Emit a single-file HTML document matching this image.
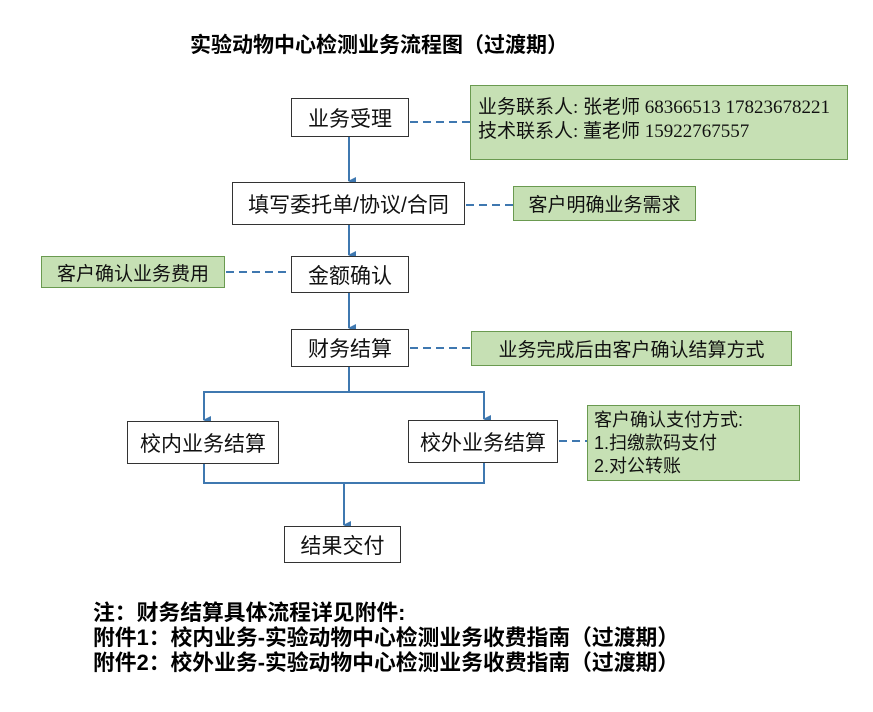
<!DOCTYPE html>
<html><head><meta charset="utf-8"><style>
body{margin:0;width:873px;height:712px;background:#fff;position:relative;overflow:hidden;font-family:"Liberation Sans","Noto Sans CJK SC",sans-serif;}
.b{position:absolute;border:1.5px solid #333;background:#fff;box-sizing:border-box;display:flex;align-items:center;justify-content:center;font-size:21px;color:#111;white-space:nowrap;}
.g{position:absolute;border:1.5px solid #6a9a50;background:#c6e0b4;box-sizing:border-box;display:flex;align-items:center;justify-content:center;font-size:19px;color:#111;white-space:nowrap;}
.t{position:absolute;font-weight:bold;color:#000;white-space:nowrap;}
svg{position:absolute;left:0;top:0;}
</style></head><body>
<div class="t" style="left:190px;top:29px;font-size:21px;">实验动物中心检测业务流程图（过渡期）</div>
<svg width="873" height="712">
<defs><marker id="a" markerWidth="8" markerHeight="8" refX="4" refY="7" orient="auto" markerUnits="userSpaceOnUse"><path d="M0,0 L8,0 L4,8 Z" fill="#3f78b0"/></marker></defs>
<g stroke="#3f78b0" stroke-width="2" fill="none">
<line x1="349" y1="137" x2="349" y2="181" marker-end="url(#a)"/>
<line x1="349" y1="225" x2="349" y2="255" marker-end="url(#a)"/>
<line x1="349" y1="293" x2="349" y2="328" marker-end="url(#a)"/>
<polyline points="349,367 349,392 204,392 204,420" marker-end="url(#a)"/>
<polyline points="349,392 484,392 484,419" marker-end="url(#a)"/>
<polyline points="204,464 204,483 484,483 484,463"/>
<line x1="344" y1="483" x2="344" y2="525" marker-end="url(#a)"/>
</g>
<g stroke="#3f78b0" stroke-width="2" stroke-dasharray="8,5">
<line x1="410" y1="122" x2="470" y2="122"/>
<line x1="466" y1="205" x2="513" y2="205"/>
<line x1="226" y1="272" x2="291" y2="272"/>
<line x1="410" y1="348" x2="471" y2="348"/>
<line x1="559" y1="441" x2="587" y2="441"/>
</g>
</svg>
<div class="b" style="left:291px;top:98px;width:118px;height:39px;">业务受理</div>
<div class="g" style="left:470px;top:85px;width:378px;height:75px;justify-content:flex-start;padding-left:7px;line-height:24px;font-family:'Liberation Serif','Noto Sans CJK SC',serif;font-size:19px;"><div style="margin-top:-6px">业务联系人: 张老师 68366513 17823678221<br>技术联系人: 董老师 15922767557</div></div>
<div class="b" style="left:232px;top:182px;width:233px;height:43px;">填写委托单/协议/合同</div>
<div class="g" style="left:513px;top:186px;width:183px;height:35px;">客户明确业务需求</div>
<div class="g" style="left:41px;top:256px;width:184px;height:32px;">客户确认业务费用</div>
<div class="b" style="left:291px;top:256px;width:118px;height:37px;">金额确认</div>
<div class="b" style="left:291px;top:329px;width:118px;height:38px;">财务结算</div>
<div class="g" style="left:471px;top:331px;width:321px;height:35px;">业务完成后由客户确认结算方式</div>
<div class="b" style="left:127px;top:421px;width:152px;height:43px;">校内业务结算</div>
<div class="b" style="left:408px;top:420px;width:150px;height:43px;">校外业务结算</div>
<div class="g" style="left:587px;top:405px;width:213px;height:76px;justify-content:flex-start;padding-left:6px;line-height:23px;font-size:18px;"><div>客户确认支付方式:<br>1.扫缴款码支付<br>2.对公转账</div></div>
<div class="b" style="left:284px;top:526px;width:117px;height:37px;">结果交付</div>
<div class="t" style="left:93px;top:600px;font-size:21.8px;line-height:25px;">注：财务结算具体流程详见附件:<br>附件1：校内业务-实验动物中心检测业务收费指南（过渡期）<br>附件2：校外业务-实验动物中心检测业务收费指南（过渡期）</div>
</body></html>
